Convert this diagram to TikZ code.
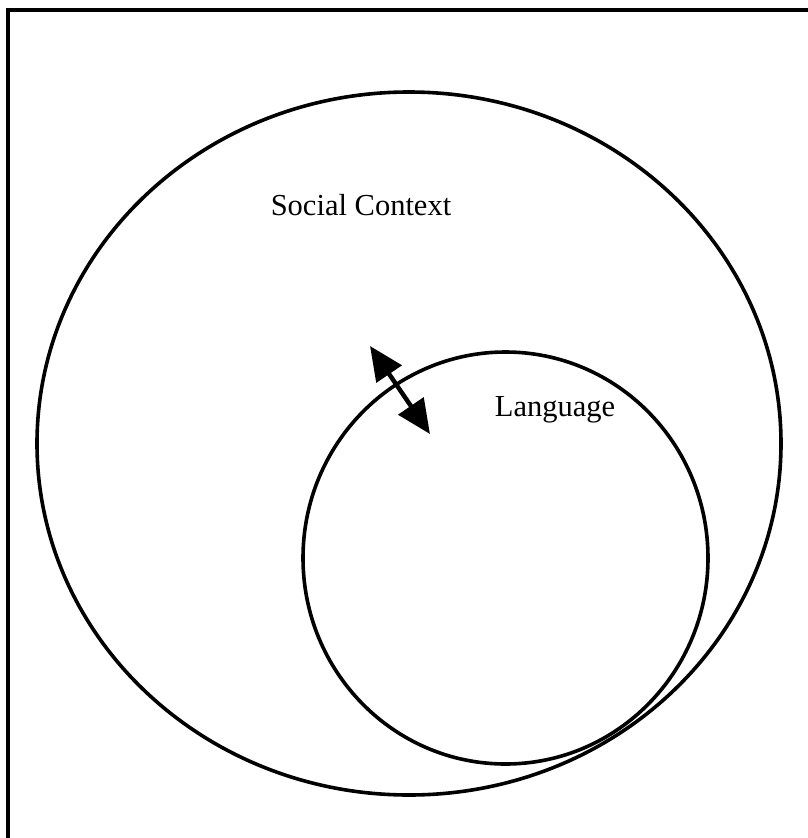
\documentclass[tikz,border=0pt]{standalone}
\usepackage{fontspec}
\setmainfont{Liberation Serif}
\usetikzlibrary{shapes.geometric,arrows.meta}
\tikzset{
  ring/.style={draw, ellipse, line width=3.6pt, inner sep=0pt, outer sep=0pt},
  label text/.style={font=\fontsize{30.5}{36}\selectfont, inner sep=0pt},
  frame line/.style={line width=3.6pt},
  link/.style={line width=4.5pt, {Triangle[length=34pt,width=30pt]}-{Triangle[length=34pt,width=30pt]}}
}
\begin{document}
\begin{tikzpicture}[x=1pt,y=-1pt]
  \useasboundingbox (0,0) rectangle (808,838);
  % open frame: left and top edges
  \coordinate (frameBL) at (8,838);
  \coordinate (frameTL) at (8,10);
  \coordinate (frameTR) at (808,10);
  \draw[frame line] (frameBL) -- (frameTL) -- (frameTR);
  % outer ring and inner ring
  \node[ring, minimum width=744pt, minimum height=703pt] (context) at (409,443.5) {};
  \node[ring, minimum width=405pt, minimum height=412pt] (language) at (505.5,558) {};
  % labels
  \node[label text] (contextlabel) at (361,205) {Social Context};
  \node[label text] (languagelabel) at (555,410) {Language};
  % two-way arrow across the inner boundary
  \coordinate (arrowA) at (370,346);
  \coordinate (arrowB) at (430,434);
  \draw[link] (arrowA) -- (arrowB);
\end{tikzpicture}
\end{document}
